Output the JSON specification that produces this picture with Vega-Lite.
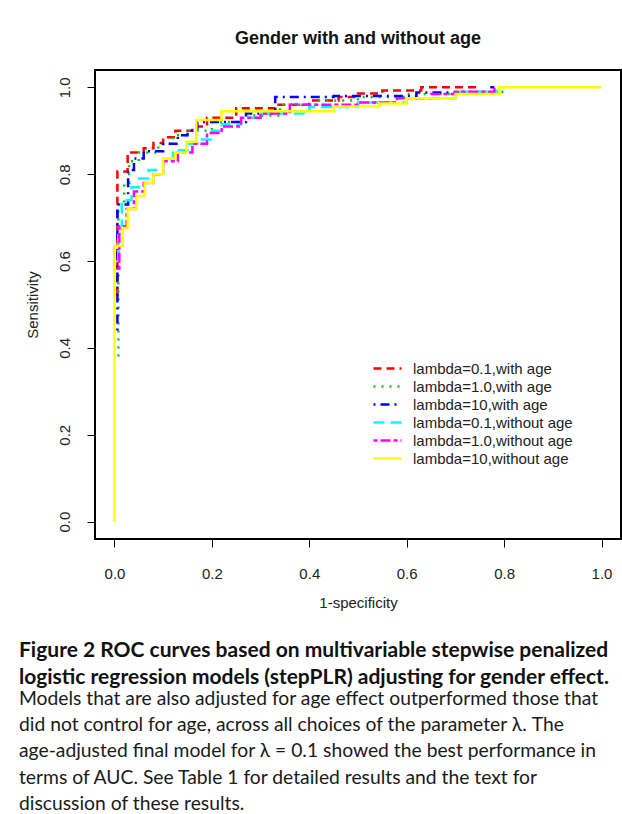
{
  "$schema": "https://vega.github.io/schema/vega-lite/v6.json",
  "background": "white",
  "padding": {"left": 19, "top": 29, "right": 0, "bottom": 0},
  "config": {
    "view": {"stroke": "black", "strokeWidth": 2},
    "font": "Liberation Sans",
    "axis": {"labelFont": "Liberation Sans", "titleFont": "Liberation Sans", "tickColor": "black", "labelColor": "#222", "titleColor": "#222", "grid": false, "domain": false, "tickSize": 8, "labelFontSize": 15, "titleFontSize": 15, "titleFontWeight": "normal", "labelFlush": false}
  },
  "title": {
    "text": ["Figure 2 ROC curves based on multivariable stepwise penalized", "logistic regression models (stepPLR) adjusting for gender effect."],
    "subtitle": ["Models that are also adjusted for age effect outperformed those that", "did not control for age, across all choices of the parameter λ. The", "age-adjusted final model for λ = 0.1 showed the best performance in", "terms of AUC. See Table 1 for detailed results and the text for", "discussion of these results."],
    "orient": "bottom", "anchor": "start", "dx": -5, "offset": 29,
    "font": "Lato", "fontSize": 21, "fontWeight": "bold", "lineHeight": 26.5, "color": "#111",
    "subtitleFont": "Lato", "subtitleFontSize": 19.3, "subtitleFontWeight": "normal", "subtitleLineHeight": 26.2, "subtitlePadding": 2.5, "subtitleColor": "#1a1a1a"
  },
  "vconcat": [
    {
      "width": 526,
      "height": 469,
      "title": {"text": "Gender with and without age", "font": "Liberation Sans", "fontSize": 18, "fontWeight": "bold", "anchor": "middle", "frame": "group", "offset": 22, "color": "#111"},
      "data": {"values": [
        {"model": "lambda=0.1,with age", "fpr": 0.006, "tpr": 0.52},
        {"model": "lambda=0.1,with age", "fpr": 0.006, "tpr": 0.806},
        {"model": "lambda=0.1,with age", "fpr": 0.027, "tpr": 0.85},
        {"model": "lambda=0.1,with age", "fpr": 0.06, "tpr": 0.86},
        {"model": "lambda=0.1,with age", "fpr": 0.08, "tpr": 0.872},
        {"model": "lambda=0.1,with age", "fpr": 0.1, "tpr": 0.885},
        {"model": "lambda=0.1,with age", "fpr": 0.125, "tpr": 0.9},
        {"model": "lambda=0.1,with age", "fpr": 0.16, "tpr": 0.91},
        {"model": "lambda=0.1,with age", "fpr": 0.19, "tpr": 0.93},
        {"model": "lambda=0.1,with age", "fpr": 0.25, "tpr": 0.952},
        {"model": "lambda=0.1,with age", "fpr": 0.33, "tpr": 0.96},
        {"model": "lambda=0.1,with age", "fpr": 0.4, "tpr": 0.97},
        {"model": "lambda=0.1,with age", "fpr": 0.46, "tpr": 0.978},
        {"model": "lambda=0.1,with age", "fpr": 0.5, "tpr": 0.986},
        {"model": "lambda=0.1,with age", "fpr": 0.55, "tpr": 0.993},
        {"model": "lambda=0.1,with age", "fpr": 0.63, "tpr": 1.0},
        {"model": "lambda=0.1,with age", "fpr": 0.75, "tpr": 1.0},
        {"model": "lambda=1.0,with age", "fpr": 0.008, "tpr": 0.38},
        {"model": "lambda=1.0,with age", "fpr": 0.008, "tpr": 0.73},
        {"model": "lambda=1.0,with age", "fpr": 0.02, "tpr": 0.78},
        {"model": "lambda=1.0,with age", "fpr": 0.03, "tpr": 0.83},
        {"model": "lambda=1.0,with age", "fpr": 0.05, "tpr": 0.85},
        {"model": "lambda=1.0,with age", "fpr": 0.09, "tpr": 0.87},
        {"model": "lambda=1.0,with age", "fpr": 0.12, "tpr": 0.89},
        {"model": "lambda=1.0,with age", "fpr": 0.15, "tpr": 0.9},
        {"model": "lambda=1.0,with age", "fpr": 0.2, "tpr": 0.92},
        {"model": "lambda=1.0,with age", "fpr": 0.26, "tpr": 0.935},
        {"model": "lambda=1.0,with age", "fpr": 0.34, "tpr": 0.96},
        {"model": "lambda=1.0,with age", "fpr": 0.42, "tpr": 0.97},
        {"model": "lambda=1.0,with age", "fpr": 0.5, "tpr": 0.978},
        {"model": "lambda=1.0,with age", "fpr": 0.6, "tpr": 0.985},
        {"model": "lambda=1.0,with age", "fpr": 0.7, "tpr": 0.99},
        {"model": "lambda=1.0,with age", "fpr": 0.805, "tpr": 0.993},
        {"model": "lambda=10,with age", "fpr": 0.006, "tpr": 0.44},
        {"model": "lambda=10,with age", "fpr": 0.006, "tpr": 0.73},
        {"model": "lambda=10,with age", "fpr": 0.028, "tpr": 0.81},
        {"model": "lambda=10,with age", "fpr": 0.04, "tpr": 0.836},
        {"model": "lambda=10,with age", "fpr": 0.06, "tpr": 0.853},
        {"model": "lambda=10,with age", "fpr": 0.1, "tpr": 0.87},
        {"model": "lambda=10,with age", "fpr": 0.13, "tpr": 0.89},
        {"model": "lambda=10,with age", "fpr": 0.15, "tpr": 0.9},
        {"model": "lambda=10,with age", "fpr": 0.17, "tpr": 0.92},
        {"model": "lambda=10,with age", "fpr": 0.27, "tpr": 0.94},
        {"model": "lambda=10,with age", "fpr": 0.33, "tpr": 0.978},
        {"model": "lambda=10,with age", "fpr": 0.45, "tpr": 0.98},
        {"model": "lambda=10,with age", "fpr": 0.62, "tpr": 0.988},
        {"model": "lambda=10,with age", "fpr": 0.77, "tpr": 1.0},
        {"model": "lambda=10,with age", "fpr": 0.78, "tpr": 1.0},
        {"model": "lambda=0.1,without age", "fpr": 0.008, "tpr": 0.6},
        {"model": "lambda=0.1,without age", "fpr": 0.008, "tpr": 0.66},
        {"model": "lambda=0.1,without age", "fpr": 0.015, "tpr": 0.74},
        {"model": "lambda=0.1,without age", "fpr": 0.035, "tpr": 0.77},
        {"model": "lambda=0.1,without age", "fpr": 0.05, "tpr": 0.79},
        {"model": "lambda=0.1,without age", "fpr": 0.07, "tpr": 0.81},
        {"model": "lambda=0.1,without age", "fpr": 0.1, "tpr": 0.83},
        {"model": "lambda=0.1,without age", "fpr": 0.12, "tpr": 0.855},
        {"model": "lambda=0.1,without age", "fpr": 0.15, "tpr": 0.87},
        {"model": "lambda=0.1,without age", "fpr": 0.17, "tpr": 0.88},
        {"model": "lambda=0.1,without age", "fpr": 0.2, "tpr": 0.9},
        {"model": "lambda=0.1,without age", "fpr": 0.22, "tpr": 0.915},
        {"model": "lambda=0.1,without age", "fpr": 0.26, "tpr": 0.93},
        {"model": "lambda=0.1,without age", "fpr": 0.3, "tpr": 0.94},
        {"model": "lambda=0.1,without age", "fpr": 0.4, "tpr": 0.955},
        {"model": "lambda=0.1,without age", "fpr": 0.5, "tpr": 0.965},
        {"model": "lambda=0.1,without age", "fpr": 0.6, "tpr": 0.975},
        {"model": "lambda=0.1,without age", "fpr": 0.7, "tpr": 0.99},
        {"model": "lambda=0.1,without age", "fpr": 0.785, "tpr": 0.995},
        {"model": "lambda=1.0,without age", "fpr": 0.01, "tpr": 0.58},
        {"model": "lambda=1.0,without age", "fpr": 0.01, "tpr": 0.68},
        {"model": "lambda=1.0,without age", "fpr": 0.025, "tpr": 0.72},
        {"model": "lambda=1.0,without age", "fpr": 0.04, "tpr": 0.76},
        {"model": "lambda=1.0,without age", "fpr": 0.06, "tpr": 0.78},
        {"model": "lambda=1.0,without age", "fpr": 0.08, "tpr": 0.8},
        {"model": "lambda=1.0,without age", "fpr": 0.1, "tpr": 0.83},
        {"model": "lambda=1.0,without age", "fpr": 0.13, "tpr": 0.85},
        {"model": "lambda=1.0,without age", "fpr": 0.16, "tpr": 0.87},
        {"model": "lambda=1.0,without age", "fpr": 0.19, "tpr": 0.895},
        {"model": "lambda=1.0,without age", "fpr": 0.22, "tpr": 0.91},
        {"model": "lambda=1.0,without age", "fpr": 0.26, "tpr": 0.93},
        {"model": "lambda=1.0,without age", "fpr": 0.3, "tpr": 0.94},
        {"model": "lambda=1.0,without age", "fpr": 0.36, "tpr": 0.96},
        {"model": "lambda=1.0,without age", "fpr": 0.5, "tpr": 0.965},
        {"model": "lambda=1.0,without age", "fpr": 0.58, "tpr": 0.975},
        {"model": "lambda=1.0,without age", "fpr": 0.65, "tpr": 0.985},
        {"model": "lambda=1.0,without age", "fpr": 0.7, "tpr": 0.99},
        {"model": "lambda=1.0,without age", "fpr": 0.78, "tpr": 1.0},
        {"model": "lambda=10,without age", "fpr": 0.0, "tpr": 0.0},
        {"model": "lambda=10,without age", "fpr": 0.0, "tpr": 0.635},
        {"model": "lambda=10,without age", "fpr": 0.017, "tpr": 0.676},
        {"model": "lambda=10,without age", "fpr": 0.027, "tpr": 0.72},
        {"model": "lambda=10,without age", "fpr": 0.045, "tpr": 0.75},
        {"model": "lambda=10,without age", "fpr": 0.062, "tpr": 0.78},
        {"model": "lambda=10,without age", "fpr": 0.08, "tpr": 0.8},
        {"model": "lambda=10,without age", "fpr": 0.1, "tpr": 0.836},
        {"model": "lambda=10,without age", "fpr": 0.125, "tpr": 0.85},
        {"model": "lambda=10,without age", "fpr": 0.148, "tpr": 0.875},
        {"model": "lambda=10,without age", "fpr": 0.168, "tpr": 0.925},
        {"model": "lambda=10,without age", "fpr": 0.22, "tpr": 0.945},
        {"model": "lambda=10,without age", "fpr": 0.45, "tpr": 0.956},
        {"model": "lambda=10,without age", "fpr": 0.544, "tpr": 0.963},
        {"model": "lambda=10,without age", "fpr": 0.6, "tpr": 0.975},
        {"model": "lambda=10,without age", "fpr": 0.7, "tpr": 0.985},
        {"model": "lambda=10,without age", "fpr": 0.79, "tpr": 1.0},
        {"model": "lambda=10,without age", "fpr": 1.0, "tpr": 1.0}
      ]},
      "mark": {"type": "line", "interpolate": "step-after", "strokeWidth": 2.5, "strokeCap": "butt"},
      "encoding": {
        "x": {"field": "fpr", "type": "quantitative", "scale": {"domain": [-0.04, 1.04], "nice": false, "zero": false},
              "axis": {"values": [0, 0.2, 0.4, 0.6, 0.8, 1.0], "format": ".1f", "title": "1-specificity", "labelPadding": 19, "titlePadding": 14}},
        "y": {"field": "tpr", "type": "quantitative", "scale": {"domain": [-0.04, 1.04], "nice": false, "zero": false},
              "axis": {"values": [0, 0.2, 0.4, 0.6, 0.8, 1.0], "format": ".1f", "title": "Sensitivity", "labelAngle": -90, "labelAlign": "center", "labelBaseline": "bottom", "labelPadding": 15, "titlePadding": 17}},
        "color": {"field": "model", "type": "nominal",
          "scale": {"domain": ["lambda=0.1,with age", "lambda=1.0,with age", "lambda=10,with age", "lambda=0.1,without age", "lambda=1.0,without age", "lambda=10,without age"],
                    "range": ["#FF0000", "#00CD00", "#0000FF", "#00FFFF", "#FF00FF", "#FFFF00"]},
          "legend": {"orient": "none", "legendX": 283, "legendY": 289, "title": null, "symbolType": "M-1.75,0H1.75", "symbolSize": 256, "symbolStrokeWidth": 2.5, "labelFont": "Liberation Sans", "labelFontSize": 15, "labelColor": "#222", "labelOffset": 16, "rowPadding": 0}},
        "strokeDash": {"field": "model", "type": "nominal",
          "scale": {"domain": ["lambda=0.1,with age", "lambda=1.0,with age", "lambda=10,with age", "lambda=0.1,without age", "lambda=1.0,without age", "lambda=10,without age"],
                    "range": [[8, 5], [2, 6], [2, 5, 9, 5], [11, 6], [4, 3, 10, 3], [1, 0]]},
          "legend": {"orient": "none", "legendX": 283, "legendY": 289, "title": null, "symbolType": "M-1.75,0H1.75", "symbolSize": 256, "symbolStrokeWidth": 2.5, "labelFont": "Liberation Sans", "labelFontSize": 15, "labelColor": "#222", "labelOffset": 16, "rowPadding": 0}}
      }
    }
  ]
}
